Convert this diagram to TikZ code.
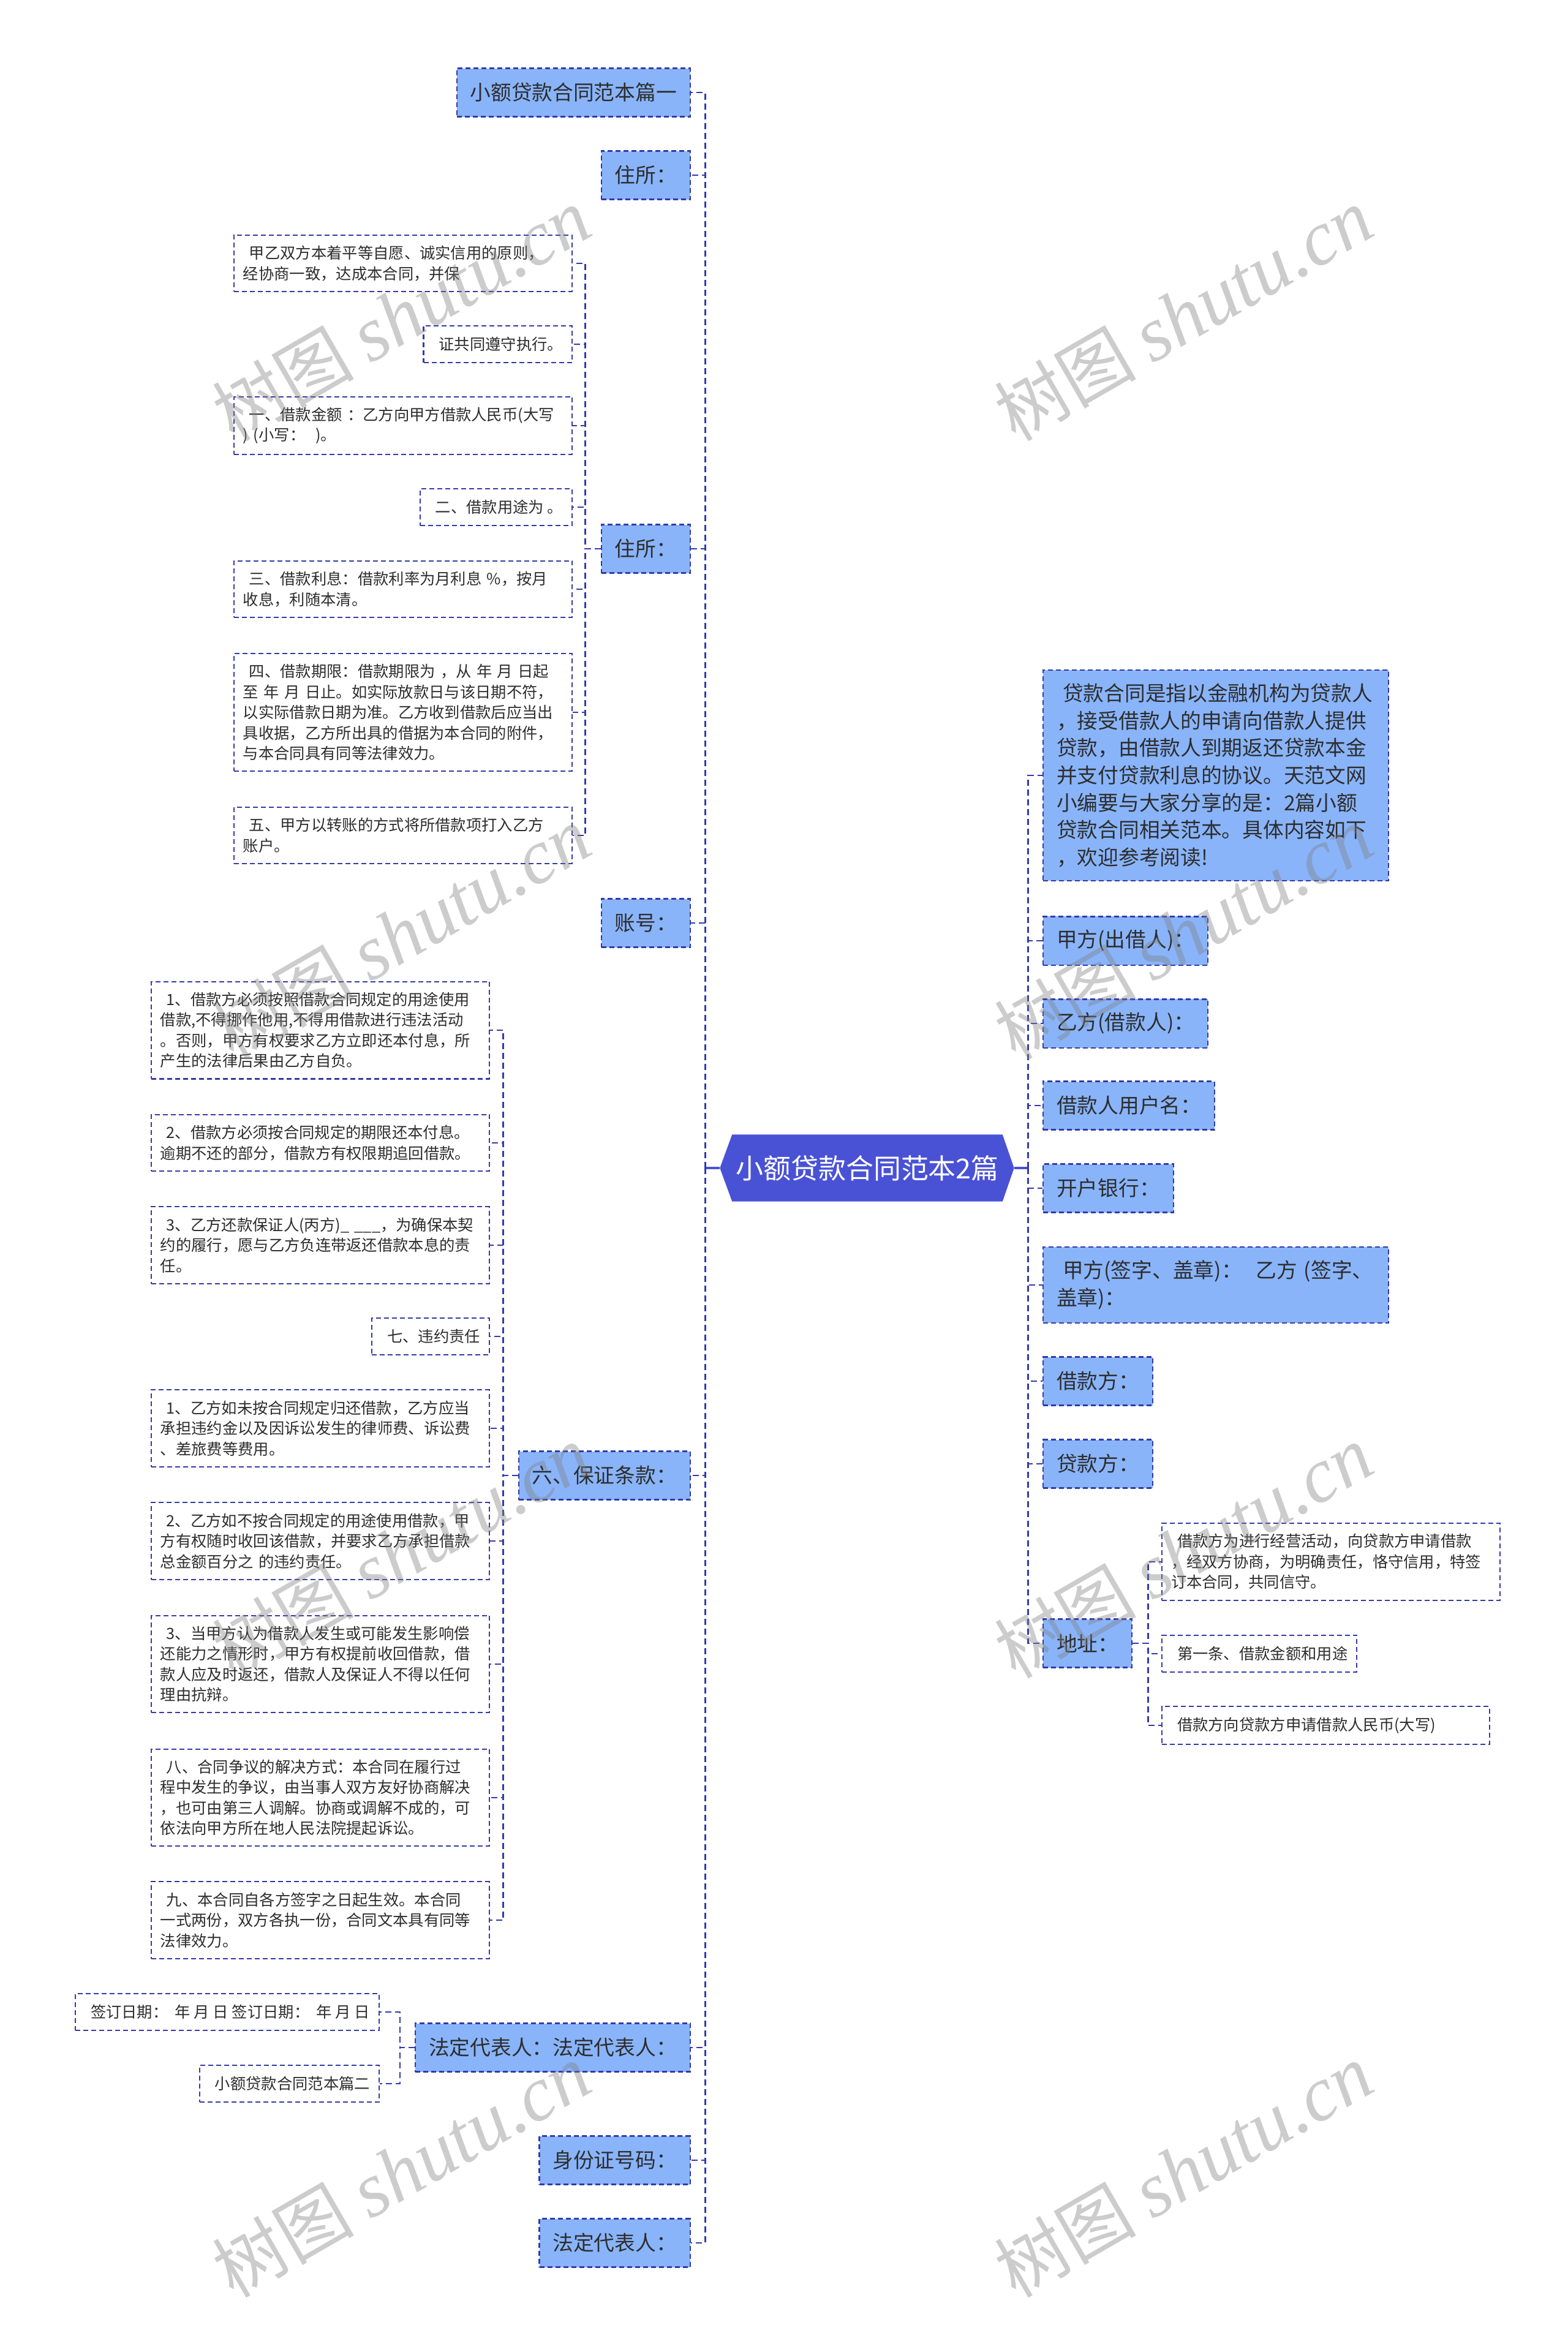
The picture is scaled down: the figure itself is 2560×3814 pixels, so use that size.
\documentclass[tikz,border=0pt]{standalone}
\usepackage{fontspec}
\setmainfont{Noto Sans CJK SC}
\newfontfamily\wmlatin{Liberation Serif}
\usetikzlibrary{backgrounds}

\definecolor{rootblue}{RGB}{73,82,213}
\definecolor{boxblue}{RGB}{137,180,250}
\definecolor{edgeblue}{RGB}{52,58,170}
\definecolor{inkgray}{RGB}{45,45,45}

\newcommand{\pad}{\hspace*{1mm}}

\tikzset{
  mainbox/.style={draw=edgeblue, line width=0.6pt, dash pattern=on 0.8mm off 0.5mm,
    fill=boxblue, text=inkgray, font=\fontsize{9.6}{12.7}\selectfont,
    inner xsep=2.2mm, inner ysep=2.2mm, minimum height=7.9mm, align=left},
  leaf/.style={draw=edgeblue, line width=0.6pt, dash pattern=on 0.8mm off 0.5mm,
    fill=white, text=inkgray, font=\fontsize{7.2}{9.5}\selectfont,
    inner xsep=1.5mm, inner ysep=1.75mm, minimum height=6mm, align=left},
  widebox/.style={text width=52.2mm},
  link/.style={draw=edgeblue, line width=0.8pt, dash pattern=on 1mm off 0.6mm},
  stub/.style={draw=rootblue, line width=0.9pt},
  wmtext/.style={font=\fontsize{33}{36}\selectfont, text=black!50, text opacity=0.4}
}

\begin{document}
\begin{tikzpicture}[x=0.1mm,y=-0.1mm]
  \useasboundingbox (0,0) rectangle (2560,3814);

  % root
  \node[font=\fontsize{12.8}{15}\selectfont, text=white, minimum width=44mm,
    minimum height=10.8mm, inner sep=0] (root) at (1416,1907) {小额贷款合同范本2篇};
  \begin{scope}[on background layer]
    \fill[rootblue] (root.north west) -- (root.north east) -- ([xshift=1.9mm]root.east)
      -- (root.south east) -- (root.south west) -- ([xshift=-2mm]root.west) -- cycle;
  \end{scope}

  % left branch
  \node[mainbox, anchor=east] (p1) at (1128,151) {小额贷款合同范本篇一};
  \node[mainbox, anchor=east] (zs1) at (1128,286) {住所：};
  \node[mainbox, anchor=east] (zs2) at (1128,896) {住所：};
  \node[mainbox, anchor=east] (zh) at (1128,1507) {账号：};
  \node[mainbox, anchor=east] (bz) at (1128,2409) {六、保证条款：};
  \node[mainbox, anchor=east] (fd2) at (1128,3343) {法定代表人：法定代表人：};
  \node[mainbox, anchor=east] (sfz) at (1128,3527) {身份证号码：};
  \node[mainbox, anchor=east] (fd1) at (1128,3662) {法定代表人：};

  % children of the second address
  \node[leaf, widebox, anchor=east] (a1) at (935,430) {\pad 甲乙双方本着平等自愿、诚实信用的原则，\\经协商一致，达成本合同，并保};
  \node[leaf, anchor=east] (a2) at (935,562) {\pad 证共同遵守执行。};
  \node[leaf, widebox, anchor=east] (a3) at (935,695) {\pad 一、借款金额 ：乙方向甲方借款人民币(大写\\) (小写：\ \ )。};
  \node[leaf, anchor=east] (a4) at (935,828) {\pad 二、借款用途为 。};
  \node[leaf, widebox, anchor=east] (a5) at (935,962) {\pad 三、借款利息：借款利率为月利息 \%，按月\\收息，利随本清。};
  \node[leaf, widebox, anchor=east] (a6) at (935,1163) {\pad 四、借款期限：借款期限为 ，从 年 月 日起\\至 年 月 日止。如实际放款日与该日期不符，\\以实际借款日期为准。乙方收到借款后应当出\\具收据，乙方所出具的借据为本合同的附件，\\与本合同具有同等法律效力。};
  \node[leaf, widebox, anchor=east] (a7) at (935,1364) {\pad 五、甲方以转账的方式将所借款项打入乙方\\账户。};

  % children of the guarantee clause
  \node[leaf, widebox, anchor=east] (b1) at (800,1682) {\pad 1、借款方必须按照借款合同规定的用途使用\\借款,不得挪作他用,不得用借款进行违法活动\\。否则，甲方有权要求乙方立即还本付息，所\\产生的法律后果由乙方自负。};
  \node[leaf, widebox, anchor=east] (b2) at (800,1866) {\pad 2、借款方必须按合同规定的期限还本付息。\\逾期不还的部分，借款方有权限期追回借款。};
  \node[leaf, widebox, anchor=east] (b3) at (800,2033) {\pad 3、乙方还款保证人(丙方)\_ \_\_\_，为确保本契\\约的履行，愿与乙方负连带返还借款本息的责\\任。};
  \node[leaf, anchor=east] (b4) at (800,2182) {\pad 七、违约责任};
  \node[leaf, widebox, anchor=east] (b5) at (800,2332) {\pad 1、乙方如未按合同规定归还借款，乙方应当\\承担违约金以及因诉讼发生的律师费、诉讼费\\、差旅费等费用。};
  \node[leaf, widebox, anchor=east] (b6) at (800,2516) {\pad 2、乙方如不按合同规定的用途使用借款，甲\\方有权随时收回该借款，并要求乙方承担借款\\总金额百分之 的违约责任。};
  \node[leaf, widebox, anchor=east] (b7) at (800,2717) {\pad 3、当甲方认为借款人发生或可能发生影响偿\\还能力之情形时，甲方有权提前收回借款，借\\款人应及时返还，借款人及保证人不得以任何\\理由抗辩。};
  \node[leaf, widebox, anchor=east] (b8) at (800,2935) {\pad 八、合同争议的解决方式：本合同在履行过\\程中发生的争议，由当事人双方友好协商解决\\，也可由第三人调解。协商或调解不成的，可\\依法向甲方所在地人民法院提起诉讼。};
  \node[leaf, widebox, anchor=east] (b9) at (800,3135) {\pad 九、本合同自各方签字之日起生效。本合同\\一式两份，双方各执一份，合同文本具有同等\\法律效力。};

  % children of the representatives
  \node[leaf, anchor=east] (c1) at (620,3285) {\pad 签订日期：\ \ 年 月 日 签订日期：\ \ 年 月 日};
  \node[leaf, anchor=east] (c2) at (620,3402) {\pad 小额贷款合同范本篇二};

  % right branch
  \node[mainbox, text width=52mm, anchor=west] (r0) at (1702,1266) {\pad 贷款合同是指以金融机构为贷款人\\，接受借款人的申请向借款人提供\\贷款，由借款人到期返还贷款本金\\并支付贷款利息的协议。天范文网\\小编要与大家分享的是：2篇小额\\贷款合同相关范本。具体内容如下\\，欢迎参考阅读!};
  \node[mainbox, anchor=west] (r1) at (1702,1536) {甲方(出借人)：};
  \node[mainbox, anchor=west] (r2) at (1702,1671) {乙方(借款人)：};
  \node[mainbox, anchor=west] (r3) at (1702,1805) {借款人用户名：};
  \node[mainbox, anchor=west] (r4) at (1702,1940) {开户银行：};
  \node[mainbox, text width=52mm, anchor=west] (r5) at (1702,2098) {\pad 甲方(签字、盖章)：\ \ 乙方 (签字、\\盖章)：};
  \node[mainbox, anchor=west] (r6) at (1702,2255) {借款方：};
  \node[mainbox, anchor=west] (r7) at (1702,2390) {贷款方：};
  \node[mainbox, anchor=west] (r8) at (1702,2683) {地址：};

  % children of the address
  \node[leaf, widebox, anchor=west] (d1) at (1896,2550) {\pad 借款方为进行经营活动，向贷款方申请借款\\，经双方协商，为明确责任，恪守信用，特签\\订本合同，共同信守。};
  \node[leaf, anchor=west] (d2) at (1896,2700) {\pad 第一条、借款金额和用途};
  \node[leaf, text width=50.5mm, anchor=west] (d3) at (1896,2817) {\pad 借款方向贷款方申请借款人民币(大写)};

  % connectors
  \draw[stub] ([xshift=-2mm]root.west) -- ++(-24,0) coordinate (lspine);
  \draw[stub] ([xshift=1.9mm]root.east) -- ++(23,0) coordinate (rspine);
  \foreach \n in {p1,zs1,zs2,zh,bz,fd2,sfz,fd1}
    \draw[link] (lspine) |- (\n.east);
  \foreach \n in {r0,r1,r2,r3,r4,r5,r6,r7,r8}
    \draw[link] (rspine) |- (\n.west);
  \foreach \n in {a1,a2,a3,a4,a5,a6,a7}
    \draw[link] (zs2.west) -- ++(-25,0) |- (\n.east);
  \foreach \n in {b1,b2,b3,b4,b5,b6,b7,b8,b9}
    \draw[link] (bz.west) -- ++(-24,0) |- (\n.east);
  \foreach \n in {c1,c2}
    \draw[link] (fd2.west) -- ++(-24,0) |- (\n.east);
  \foreach \n in {d1,d2,d3}
    \draw[link] (r8.east) -- ++(25,0) |- (\n.west);

  % watermarks
  \foreach \wx in {655,1932}
    \foreach \wy in {514,1524,2534,3544}
      \node[wmtext, rotate=30] (wm-\wx-\wy) at (\wx,\wy)
        {树图 {\wmlatin\itshape\fontsize{36}{36}\selectfont shutu.cn}};
\end{tikzpicture}
\end{document}
